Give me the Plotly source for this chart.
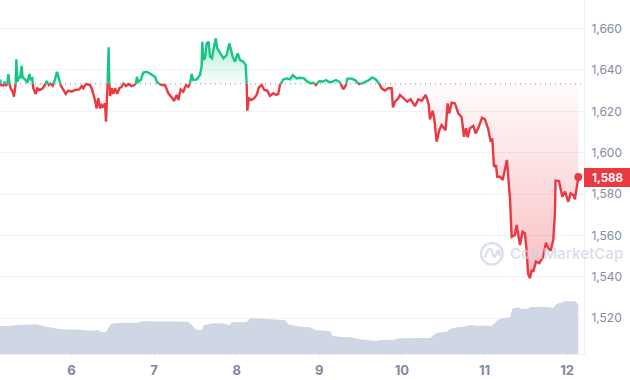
import plotly.graph_objects as go

BASE_PRICE = 1633.3
LAST_LABEL = "1,588"

days = [5.134,5.146,5.174,5.190,5.207,5.223,5.235,5.247,5.263,5.287,5.303,5.324,5.332,5.344,5.360,5.376,5.396,5.408,5.437,5.465,
5.489,5.505,5.525,5.537,5.566,5.586,5.618,5.650,5.679,5.699,5.727,5.747,5.772,5.800,5.824,5.848,5.868,5.901,5.929,5.961,
6.002,6.042,6.094,6.123,6.143,6.175,6.223,6.244,6.264,6.284,6.304,6.324,6.345,6.365,6.385,6.405,6.417,6.429,6.437,6.449,
6.457,6.466,6.486,6.506,6.526,6.554,6.579,6.607,6.627,6.659,6.688,6.728,6.760,6.780,6.792,6.808,6.837,6.869,6.909,6.950,
7.010,7.039,7.091,7.131,7.172,7.212,7.240,7.273,7.293,7.321,7.353,7.386,7.414,7.434,7.454,7.474,7.515,7.555,7.575,7.583,
7.595,7.616,7.636,7.660,7.676,7.700,7.725,7.745,7.765,7.797,7.838,7.878,7.910,7.926,7.950,7.979,8.011,8.039,8.080,8.108,
8.120,8.128,8.144,8.180,8.209,8.241,8.269,8.302,8.334,8.370,8.402,8.443,8.475,8.503,8.523,8.564,8.604,8.645,8.677,8.725,
8.766,8.814,8.854,8.895,8.927,8.959,9.000,9.040,9.080,9.121,9.161,9.201,9.250,9.290,9.322,9.339,9.391,9.431,9.480,9.520,
9.560,9.601,9.641,9.682,9.722,9.754,9.794,9.835,9.875,9.891,9.916,9.956,9.976,10.025,10.065,10.105,10.158,10.198,10.238,10.259,
10.287,10.323,10.339,10.372,10.392,10.420,10.452,10.480,10.529,10.553,10.573,10.602,10.642,10.682,10.723,10.751,10.775,10.795,10.823,10.864,
10.892,10.932,10.969,11.005,11.045,11.074,11.094,11.114,11.138,11.154,11.187,11.219,11.247,11.271,11.287,11.308,11.328,11.368,11.388,11.408,
11.429,11.461,11.489,11.509,11.526,11.550,11.570,11.590,11.622,11.663,11.711,11.743,11.772,11.800,11.832,11.852,11.860,11.901,11.941,11.973,
12.014,12.042,12.074,12.094,12.135]

prices = [1635.4,1632.7,1632.4,1634.3,1632.2,1633.5,1638.0,1633.5,1631.1,1629.5,1627.1,1633.5,1645.1,1634.3,1636.7,1635.9,1641.9,1636.4,1635.4,1633.8,
1638.0,1635.4,1635.9,1631.1,1628.4,1631.1,1630.3,1631.1,1632.7,1634.6,1632.7,1633.5,1632.4,1635.4,1639.1,1635.9,1632.7,1630.3,1628.4,1630.0,
1629.5,1630.3,1630.6,1632.2,1631.1,1633.2,1632.7,1631.1,1628.7,1625.5,1621.4,1626.3,1621.4,1623.0,1621.9,1623.9,1615.0,1623.9,1633.5,1650.9,
1633.5,1627.4,1631.1,1628.4,1631.1,1628.4,1631.1,1631.9,1633.5,1632.2,1633.2,1632.2,1632.7,1633.5,1636.7,1634.3,1635.1,1638.7,1639.1,1638.3,
1636.7,1633.8,1632.7,1632.7,1628.7,1626.7,1625.0,1627.9,1625.5,1630.6,1629.5,1632.7,1631.9,1633.5,1638.0,1635.1,1635.4,1637.5,1641.6,1653.6,
1645.1,1645.6,1652.8,1653.6,1646.4,1645.6,1651.2,1655.2,1650.4,1648.0,1645.6,1647.2,1652.8,1650.4,1646.4,1644.0,1648.0,1644.8,1644.0,1642.4,
1633.5,1620.3,1626.3,1625.5,1626.3,1627.9,1631.6,1632.7,1630.3,1630.0,1627.4,1628.7,1627.9,1628.4,1632.7,1635.4,1635.9,1635.4,1637.5,1635.9,
1636.2,1635.9,1634.3,1633.5,1633.8,1632.7,1634.6,1634.3,1635.1,1634.0,1634.3,1635.1,1634.0,1630.6,1632.7,1635.8,1635.8,1635.1,1633.2,1633.5,
1634.3,1635.1,1636.4,1635.4,1633.5,1631.1,1630.0,1631.1,1631.1,1621.9,1624.7,1626.3,1627.9,1626.2,1624.6,1625.8,1622.5,1625.8,1625.1,1626.2,
1627.9,1623.5,1616.1,1620.3,1616.1,1605.3,1610.9,1613.4,1610.9,1623.8,1619.0,1624.2,1623.8,1619.0,1617.1,1607.7,1611.8,1607.4,1611.8,1612.9,
1609.3,1612.6,1616.9,1616.1,1611.3,1605.3,1606.9,1593.2,1594.0,1588.4,1588.4,1586.8,1591.6,1596.5,1588.4,1577.9,1559.4,1560.2,1565.1,1559.4,
1555.4,1561.8,1561.0,1553.0,1541.7,1539.3,1543.3,1542.5,1547.4,1546.6,1549.8,1556.5,1553.8,1552.7,1557.8,1570.7,1586.5,1586.3,1578.7,1581.2,
1576.3,1580.4,1579.6,1577.5,1588.2]

volume_days = [5.134,5.235,5.356,5.570,5.699,5.880,6.102,6.244,6.324,6.353,6.417,6.474,6.526,6.788,6.869,7.010,7.293,7.414,7.454,7.515,
7.575,7.603,7.716,7.817,7.918,7.938,8.120,8.160,8.241,8.402,8.584,8.624,8.766,8.887,8.947,9.130,9.158,9.271,9.372,9.473,
9.573,9.694,9.735,9.896,9.957,10.340,10.421,10.542,10.582,10.663,10.744,10.824,10.925,11.087,11.159,11.208,11.308,11.337,11.409,11.450,
11.530,11.551,11.772,11.833,11.873,11.974,12.095,12.135]
volumes = [5.60,5.60,5.80,5.94,5.47,4.94,4.87,4.67,4.80,4.40,4.40,6.00,6.20,6.27,6.54,6.54,6.54,6.47,5.80,4.87,
4.80,5.80,6.14,6.14,5.80,6.34,6.40,7.14,7.14,6.94,6.74,5.94,5.47,5.34,4.80,4.54,3.60,3.40,3.34,3.00,
2.80,2.60,2.80,2.87,3.14,3.20,4.27,4.47,5.00,5.34,5.47,5.80,5.67,5.67,6.80,7.14,7.34,9.07,9.34,9.00,
9.07,9.40,9.40,9.20,10.00,10.54,10.54,9.94]

price_ticks = [1520,1540,1560,1580,1600,1620,1640,1660]
day_ticks = [6,7,8,9,10,11,12]

GREEN = "#16c784"
RED = "#ea3943"
GRID = "#f1f3f6"
LABEL = "#858ca2"
WATERMARK = "rgba(207,214,228,0.75)"
PLOT_W, PLOT_H = 584, 354


def px(x):
    return x / PLOT_W


def py(y):
    return 1 - y / PLOT_H


# insert crossing points of the baseline so the two colours meet exactly on it
xs, ys = [days[0]], [prices[0]]
for i in range(1, len(days)):
    a, b = prices[i-1], prices[i]
    if (a - BASE_PRICE) * (b - BASE_PRICE) < 0:
        t = (BASE_PRICE - a) / (b - a)
        xs.append(days[i-1] + t * (days[i] - days[i-1]))
        ys.append(BASE_PRICE)
    xs.append(days[i])
    ys.append(b)

above = [y if y >= BASE_PRICE else None for y in ys]
below = [y if y <= BASE_PRICE else None for y in ys]
above_fill = [max(y, BASE_PRICE) for y in ys]
below_fill = [min(y, BASE_PRICE) for y in ys]
base_line = [BASE_PRICE] * len(xs)

fig = go.Figure()
fig.add_trace(go.Scatter(x=volume_days, y=volumes, yaxis="y2", mode="lines", line=dict(width=0),
                         fill="tozeroy", fillcolor="#cfd6e4", hoverinfo="skip"))
fig.add_trace(go.Scatter(x=xs, y=base_line, mode="lines", line=dict(width=0), hoverinfo="skip"))
fig.add_trace(go.Scatter(x=xs, y=above_fill, mode="lines", line=dict(width=0), fill="tonexty",
                         fillgradient=dict(type="vertical", start=1655, stop=BASE_PRICE,
                                           colorscale=[[0, "rgba(22,199,132,0.32)"], [1, "rgba(22,199,132,0.03)"]]),
                         hoverinfo="skip"))
fig.add_trace(go.Scatter(x=xs, y=base_line, mode="lines", line=dict(width=0), hoverinfo="skip"))
fig.add_trace(go.Scatter(x=xs, y=below_fill, mode="lines", line=dict(width=0), fill="tonexty",
                         fillgradient=dict(type="vertical", start=1540, stop=BASE_PRICE,
                                           colorscale=[[0, "rgba(234,57,67,0.32)"], [1, "rgba(234,57,67,0.02)"]]),
                         hoverinfo="skip"))
fig.add_trace(go.Scatter(x=xs, y=above, mode="lines", line=dict(color=GREEN, width=2.4), connectgaps=False))
fig.add_trace(go.Scatter(x=xs, y=below, mode="lines", line=dict(color=RED, width=2.4), connectgaps=False))
fig.add_trace(go.Scatter(x=[days[-1]], y=[prices[-1]], mode="markers", marker=dict(color=RED, size=8)))

fig.update_layout(
    width=630, height=380, margin=dict(l=0, r=46, t=0, b=26),
    paper_bgcolor="white", plot_bgcolor="white", showlegend=False,
    font=dict(family="Inter, sans-serif", color=LABEL),
    xaxis=dict(range=[5.134, 12.204], tickvals=day_ticks, ticktext=[str(d) for d in day_ticks],
               ticks="outside", ticklen=4, tickcolor="#eff2f5", showgrid=False, zeroline=False,
               showline=True, linecolor="#eff2f5",
               tickfont=dict(size=13, color="#808a9d", family="Inter, sans-serif", weight=700)),
    yaxis=dict(range=[1502.75, 1673.77], side="right", tickvals=price_ticks,
               ticktext=[f"{p:,}" for p in price_ticks], ticks="outside", ticklen=4, tickcolor="rgba(0,0,0,0)",
               gridcolor=GRID, gridwidth=1, zeroline=False, showline=True, linecolor="#eff2f5",
               tickfont=dict(size=12, color=LABEL)),
    yaxis2=dict(range=[0, 70.8], overlaying="y", visible=False),
    shapes=[
        dict(type="line", xref="paper", x0=0, x1=1, yref="y", y0=BASE_PRICE, y1=BASE_PRICE,
             line=dict(color="#8f96a3", width=1, dash="1px,4px")),
        dict(type="rect", xref="paper", x0=1, x1=630/PLOT_W, yref="y", y0=1583.4, y1=1592.6,
             fillcolor=RED, line=dict(width=0)),
        dict(type="circle", xref="paper", yref="paper", x0=px(481), x1=px(502.5), y0=py(264.5), y1=py(243),
             line=dict(color=WATERMARK, width=2.6)),
        dict(type="path", xref="paper", yref="paper",
             path=(f"M {px(485)} {py(258)} Q {px(487)} {py(249)} {px(490)} {py(249)} "
                   f"Q {px(492)} {py(249)} {px(493)} {py(255)} Q {px(495)} {py(259)} {px(497)} {py(252)} "
                   f"Q {px(498.5)} {py(248)} {px(499.5)} {py(256)}"),
             line=dict(color=WATERMARK, width=2.4)),
    ],
    annotations=[
        dict(text=LAST_LABEL, xref="paper", x=607/PLOT_W, xanchor="center", yref="y", y=1588, showarrow=False,
             font=dict(size=11.5, color="white", family="Inter, sans-serif", weight=700)),
        dict(text="CoinMarketCap", xref="paper", x=508/PLOT_W, xanchor="left", yref="y", y=1551.5, showarrow=False,
             font=dict(size=15, color=WATERMARK, family="Inter, sans-serif", weight=600)),
    ],
)
fig.write_html("out.html", config={"displayModeBar": False},
               post_script="document.body.style.margin='0';document.documentElement.style.overflow='hidden';")
